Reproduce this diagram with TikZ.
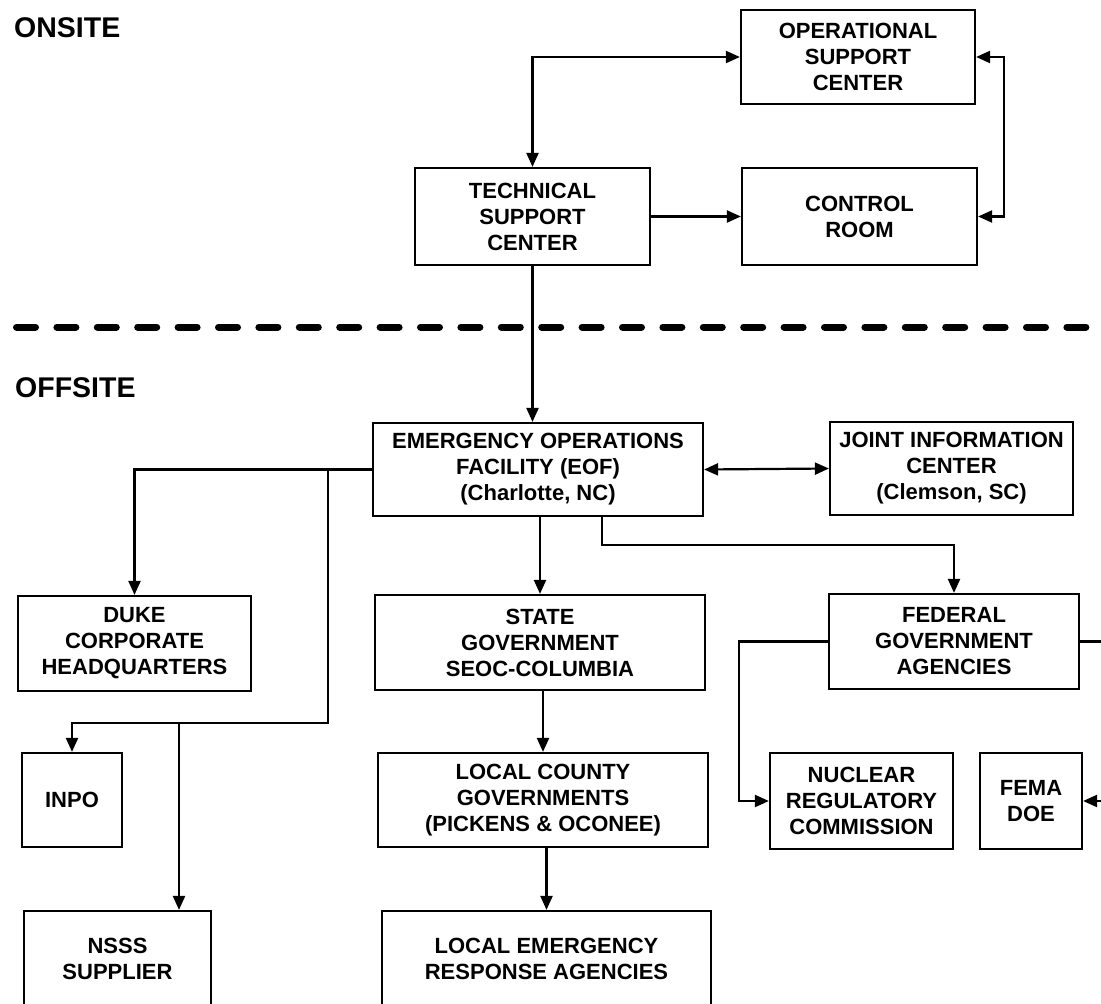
\documentclass[tikz,border=0pt]{standalone}
\usepackage{fontspec}
\setmainfont{Liberation Sans}
\usetikzlibrary{arrows.meta,calc}
\begin{document}
\begin{tikzpicture}[x=1pt,y=-1pt,
  box/.style={draw,line width=2.2pt,align=center,inner sep=0pt,font=\fontsize{22}{26}\selectfont\bfseries},
  conn/.style={line width=2.2pt},
  arr/.style={conn,-{Triangle[length=14pt,width=12pt]}},
  darr/.style={conn,{Triangle[length=14pt,width=12pt]}-{Triangle[length=14pt,width=12pt]}},
  head/.style={anchor=west,inner sep=0pt,font=\fontsize{28.5}{32}\selectfont\bfseries},
  sepline/.style={line width=7pt,line cap=round,dash pattern=on 19pt off 21.4pt,dash phase=23.9pt}]
\useasboundingbox (0,0) rectangle (1101,1004);
\clip (0,0) rectangle (1101,1004);
\fill[white] (0,0) rectangle (1101,1004);

% headings
\node[head] (onsite) at (14,28) {ONSITE};
\node[head] (offsite) at (15,388) {OFFSITE};

% separator
\coordinate (sepL) at (0,327);
\coordinate (sepR) at (1120,327);
\draw[sepline] (sepL) -- (sepR);

% onsite boxes
\node[box,minimum width=234pt,minimum height=94pt] (osc) at (858,57) {OPERATIONAL\\SUPPORT\\CENTER};
\node[box,minimum width=235pt,minimum height=97pt] (tsc) at (532.5,216.5) {TECHNICAL\\SUPPORT\\CENTER};
\node[box,minimum width=235pt,minimum height=97pt] (cr) at (859.5,216.5) {CONTROL\\ROOM};

% offsite boxes
\node[box,minimum width=330pt,minimum height=93pt] (eof) at (538,469.5) {EMERGENCY OPERATIONS\\FACILITY (EOF)\\(Charlotte, NC)};
\node[box,minimum width=243pt,minimum height=93pt] (jic) at (951.5,468.5) {JOINT INFORMATION\\CENTER\\(Clemson, SC)};
\node[box,minimum width=233pt,minimum height=95pt] (duke) at (134.5,643.5) {DUKE\\CORPORATE\\HEADQUARTERS};
\node[box,minimum width=330pt,minimum height=95pt] (state) at (540,642.5) {STATE\\GOVERNMENT\\SEOC-COLUMBIA};
\node[box,minimum width=250pt,minimum height=95pt] (fed) at (954,641.5) {FEDERAL\\GOVERNMENT\\AGENCIES};
\node[box,minimum width=100pt,minimum height=94pt] (inpo) at (72,800) {INPO};
\node[box,minimum width=330pt,minimum height=94pt] (lcg) at (543,800) {LOCAL COUNTY\\GOVERNMENTS\\(PICKENS \& OCONEE)};
\node[box,minimum width=183pt,minimum height=96pt] (nrc) at (861.5,801) {NUCLEAR\\REGULATORY\\COMMISSION};
\node[box,minimum width=102pt,minimum height=96pt] (fema) at (1031,801) {FEMA\\DOE};
\node[box,minimum width=187pt,minimum height=95pt] (nsss) at (117.5,958.5) {NSSS\\SUPPLIER};
\node[box,minimum width=329pt,minimum height=95pt] (lera) at (546.5,958.5) {LOCAL EMERGENCY\\RESPONSE AGENCIES};

% onsite connectors
\draw[darr] (osc.west) -| (tsc.north);
\draw[arr] (tsc.east) -- (cr.west);
\coordinate (loopR) at (1004,57);
\draw[darr] (osc.east) -- (loopR) |- (cr.east);
\draw[arr] (tsc.south) -- (tsc.south |- eof.north);

% offsite connectors
\draw[darr] (eof.east) -- (jic.west);
\draw[arr] (eof.west) -| (duke.north);
\coordinate (b1) at (328,469.5);
\coordinate (b2) at (328,723);
\coordinate (b3) at (179,723);
\draw[arr] (b1) -- (b2) -| (inpo.north);
\draw[arr] (b3) -- (b3 |- nsss.north);
\draw[arr] (state.north |- eof.south) -- (state.north);
\coordinate (f1) at (602,516);
\coordinate (f2) at (602,545);
\draw[arr] (f1) -- (f2) -| (fed.north);
\draw[arr] (lcg.north |- state.south) -- (lcg.north);
\draw[arr] (lera.north |- lcg.south) -- (lera.north);
\coordinate (n1) at (739,641.5);
\draw[arr] (fed.west) -- (n1) |- (nrc.west);
\coordinate (m1) at (1115,641.5);
\draw[arr] (fed.east) -- (m1) |- (fema.east);
\end{tikzpicture}
\end{document}
